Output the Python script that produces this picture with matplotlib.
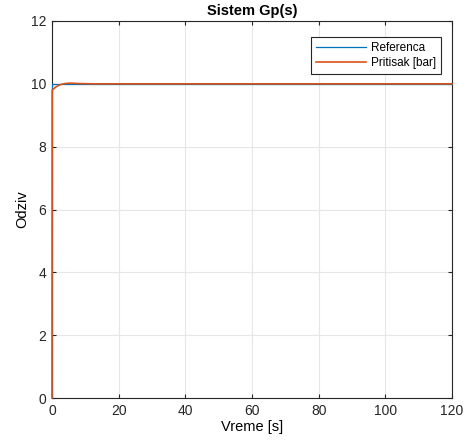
import matplotlib
matplotlib.use("Agg")
import matplotlib.pyplot as plt

# Reference signal (step)
t_ref = [0, 0, 120]
y_ref = [0, 10, 10]

# Pressure response
t_p = [0, 0.05, 0.5, 1, 2, 3, 4, 5, 6, 7, 8, 10, 12, 15, 20, 40, 60, 80, 100, 120]
y_p = [0, 9.80, 9.84, 9.89, 9.95, 9.99, 10.01, 10.02, 10.02, 10.015, 10.01, 10.005, 10.0, 10.0, 10.0, 10.0, 10.0, 10.0, 10.0, 10.0]

x_ticks = [0, 20, 40, 60, 80, 100, 120]
y_ticks = [0, 2, 4, 6, 8, 10, 12]

plt.rcParams['font.family'] = ['Liberation Sans', 'DejaVu Sans']

fig = plt.figure(figsize=(4.66, 4.43), dpi=100)
ax = fig.add_axes([52/466, 1 - 398/443, 400/466, 377/443])

ax.plot(t_ref, y_ref, color='#0072BD', lw=0.9, label='Referenca', clip_on=False, zorder=3)
ax.plot(t_p, y_p, color='#D95319', lw=1.2, label='Pritisak [bar]', clip_on=False, zorder=4)

ax.set_xlim(0, 120)
ax.set_ylim(0, 12)
ax.set_xticks(x_ticks)
ax.set_yticks(y_ticks)
ax.grid(True, color='#e6e6e6', lw=0.8)
ax.set_axisbelow(True)
for s in ax.spines.values():
    s.set_color('#262626')
    s.set_linewidth(0.8)
    s.set_zorder(2.5)
ax.tick_params(direction='in', length=3, labelsize=10, colors='#262626', top=True, right=True, pad=4)
ax.set_title('Sistem Gp(s)', fontsize=10.5, fontweight='bold', pad=4)
ax.set_xlabel('Vreme [s]', fontsize=10.5, labelpad=2)
ax.set_ylabel('Odziv', fontsize=10.5, labelpad=1)

leg = ax.legend(loc='upper right', fontsize=8.5, fancybox=False, edgecolor='#262626',
                framealpha=1, handlelength=4.2, borderpad=0.45, labelspacing=0.2,
                handletextpad=0.4, borderaxespad=0, bbox_to_anchor=(0.9725, 0.9576))
leg.get_frame().set_linewidth(0.8)

fig.savefig('out.png', dpi=100)
